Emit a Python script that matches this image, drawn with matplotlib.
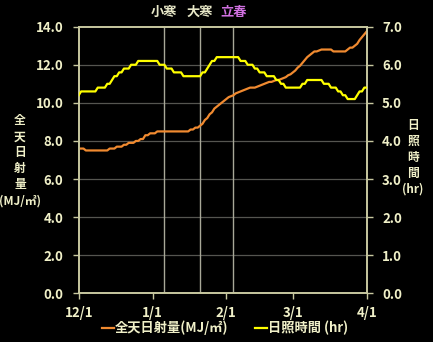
import matplotlib
matplotlib.use("Agg")
import matplotlib.pyplot as plt

plt.rcParams['font.family'] = ['Noto Sans CJK JP', 'DejaVu Sans']
plt.rcParams['font.weight'] = 'bold'

# days counted from 12/1 (0) to 4/1 (121)
days = list(range(122))

radiation = [
    7.6, 7.6, 7.6, 7.5, 7.5, 7.5, 7.5, 7.5, 7.5, 7.5,
    7.5, 7.5, 7.5, 7.6, 7.6, 7.6, 7.7, 7.7, 7.7, 7.8,
    7.8, 7.9, 7.9, 7.9, 8.0, 8.0, 8.1, 8.1, 8.3, 8.3,
    8.4, 8.4, 8.4, 8.5, 8.5, 8.5, 8.5, 8.5, 8.5, 8.5,
    8.5, 8.5, 8.5, 8.5, 8.5, 8.5, 8.5, 8.6, 8.6, 8.7,
    8.7, 8.8, 8.9, 9.1, 9.2, 9.4, 9.5, 9.7, 9.8, 9.9,
    10.0, 10.1, 10.2, 10.3, 10.35, 10.4, 10.5, 10.55, 10.6, 10.65,
    10.7, 10.75, 10.8, 10.8, 10.8, 10.85, 10.9, 10.95, 11.0, 11.05,
    11.1, 11.1, 11.15, 11.2, 11.2, 11.25, 11.3, 11.35, 11.45, 11.5,
    11.6, 11.7, 11.85, 11.95, 12.1, 12.25, 12.4, 12.5, 12.6, 12.7,
    12.7, 12.75, 12.8, 12.8, 12.8, 12.8, 12.8, 12.7, 12.7, 12.7,
    12.7, 12.7, 12.7, 12.8, 12.9, 12.9, 13.0, 13.1, 13.3, 13.45,
    13.6, 13.75,
]

sunshine = [
    5.2, 5.3, 5.3, 5.3, 5.3, 5.3, 5.3, 5.3, 5.4, 5.4,
    5.4, 5.4, 5.5, 5.5, 5.6, 5.7, 5.7, 5.8, 5.8, 5.9,
    5.9, 5.9, 6.0, 6.0, 6.0, 6.1, 6.1, 6.1, 6.1, 6.1,
    6.1, 6.1, 6.1, 6.1, 6.0, 6.0, 6.0, 5.9, 5.9, 5.9,
    5.8, 5.8, 5.8, 5.8, 5.7, 5.7, 5.7, 5.7, 5.7, 5.7,
    5.7, 5.7, 5.8, 5.8, 5.9, 6.0, 6.1, 6.1, 6.2, 6.2,
    6.2, 6.2, 6.2, 6.2, 6.2, 6.2, 6.2, 6.2, 6.1, 6.1,
    6.1, 6.0, 6.0, 6.0, 5.9, 5.9, 5.8, 5.8, 5.8, 5.7,
    5.7, 5.7, 5.7, 5.6, 5.6, 5.5, 5.5, 5.4, 5.4, 5.4,
    5.4, 5.4, 5.4, 5.4, 5.5, 5.5, 5.6, 5.6, 5.6, 5.6,
    5.6, 5.6, 5.6, 5.5, 5.5, 5.5, 5.4, 5.4, 5.4, 5.3,
    5.3, 5.2, 5.2, 5.1, 5.1, 5.1, 5.1, 5.2, 5.3, 5.3,
    5.4, 5.4,
]

tick_days = [0, 31, 62, 90, 121]
tick_labels = ['12/1', '1/1', '2/1', '3/1', '4/1']

# 小寒, 大寒, 立春
season_days = [36, 51, 65]
season_names = ['小寒', '大寒', '立春']
season_colors = ['#e8e8c8', '#e8e8c8', '#d070e0']

txt = '#f0f0c8'
frame = '#c8c8a0'
orange = '#f08a30'
yellow = '#ffff00'

fig = plt.figure(figsize=(4.33, 3.42), dpi=100, facecolor='black')
ax = fig.add_axes([0.1818, 0.1424, 0.6651, 0.7796])
ax.set_facecolor('black')
ax2 = ax.twinx()

for y in range(2, 14, 2):
    ax.axhline(y, color='#555550', lw=0.9, zorder=0)
for d in season_days:
    ax.axvline(d, color='#a8a898', lw=1.0, zorder=1)

l1, = ax.plot(days, radiation, color=orange, lw=1.6, zorder=3)
l2, = ax2.plot(days, sunshine, color=yellow, lw=1.6, zorder=3)

ax.set_xlim(0, 121)
ax.set_ylim(0, 14)
ax2.set_ylim(0, 7)
ax.set_xticks(tick_days)
ax.set_xticklabels(tick_labels)
ax.set_yticks(range(0, 15, 2))
ax.set_yticklabels([f'{v:.1f}' for v in range(0, 15, 2)])
ax2.set_yticks(range(0, 8))
ax2.set_yticklabels([f'{v:.1f}' for v in range(0, 8)])

for a in (ax, ax2):
    for s in a.spines.values():
        s.set_color(frame)
        s.set_linewidth(1.2)
    a.tick_params(colors=frame, labelcolor=txt, labelsize=9.5, length=4, width=1)
ax.tick_params(axis='y', pad=7)
ax2.tick_params(axis='y', pad=7)
ax.tick_params(axis='x', pad=5)

for d, name, c in zip(season_days, season_names, season_colors):
    ax.text(d, 14.4, name, color=c, fontsize=9.5, ha='center', va='bottom')

fig.text(0.046, 0.53, '全\n天\n日\n射\n量\n(MJ/㎡)', color=txt, fontsize=8.5,
         ha='center', va='center', linespacing=1.3)
fig.text(0.954, 0.54, '日\n照\n時\n間\n(hr)', color=txt, fontsize=8.5,
         ha='center', va='center', linespacing=1.3)

fig.legend([l1, l2], ['全天日射量(MJ/㎡)', '日照時間 (hr)'], loc='lower center',
           bbox_to_anchor=(0.52, -0.015), ncol=2, frameon=False, fontsize=9.5,
           labelcolor=txt, handlelength=0.9, handletextpad=0.1, columnspacing=2.0)

fig.savefig('out.png', dpi=100, facecolor='black')
